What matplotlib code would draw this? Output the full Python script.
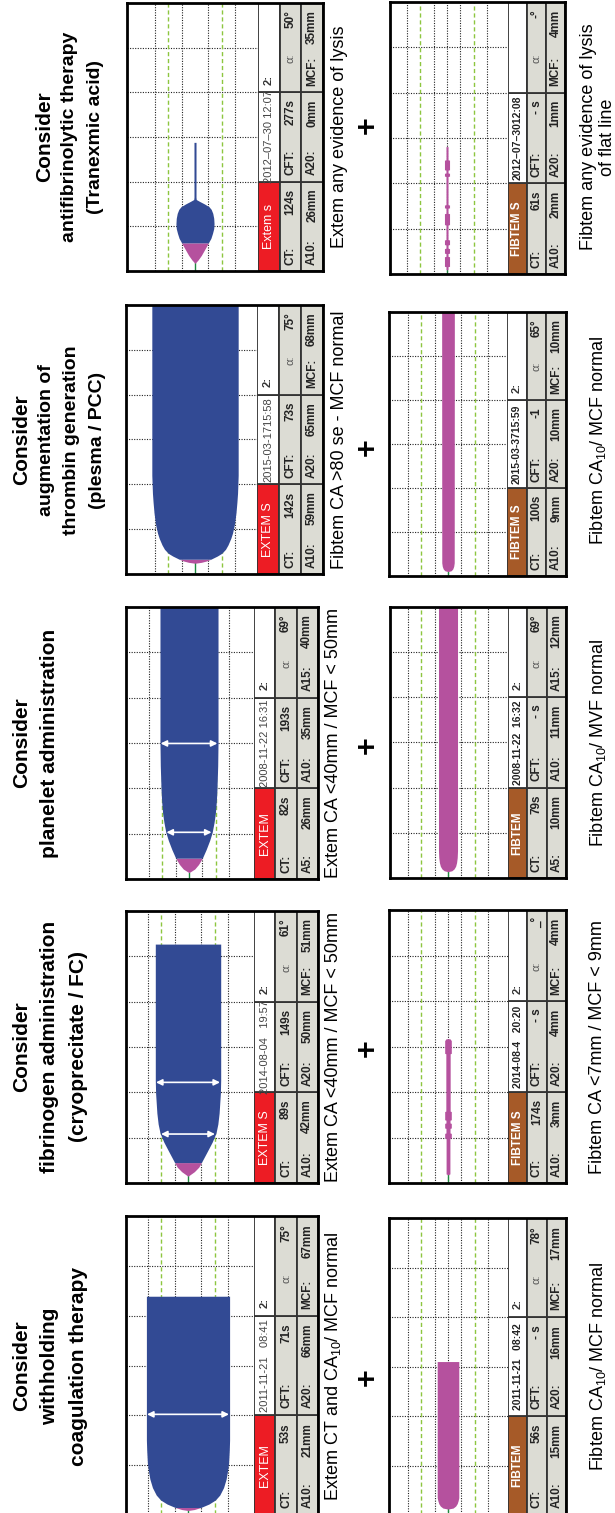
import numpy as np
from matplotlib import pyplot as plt
from matplotlib import font_manager
from matplotlib.patches import Rectangle

plt.rcParams['font.family'] = ['Liberation Sans', 'DejaVu Sans']
plt.rcParams['mathtext.fontset'] = 'custom'
plt.rcParams['mathtext.rm'] = 'Liberation Sans'
plt.rcParams['mathtext.it'] = 'Liberation Sans:italic'
plt.rcParams['mathtext.bf'] = 'Liberation Sans:bold'


def has_font(name):
    try:
        font_manager.findfont(font_manager.FontProperties(family=name), fallback_to_default=False)
        return True
    except ValueError:
        return False


NARROW = has_font('Liberation Sans Narrow')

# ---------------- data ----------------
titles = [
    ["Consider", "withholding", "coagulation therapy"],
    ["Consider", "fibrinogen administration", "(cryoprecitate / FC)"],
    ["Consider", "planelet administration"],
    ["Consider", "augmentation of", "thrombin generation", "(plesma / PCC)"],
    ["Consider", "antifibrinolytic therapy", "(Tranexmic acid)"],
]
extem_captions = [
    "Extem CT and CA$_{10}$/ MCF normal",
    "Extem CA <40mm / MCF < 50mm",
    "Extem CA <40mm / MCF < 50mm",
    "Fibtem CA >80 se - MCF normal",
    "Extem any evidence of lysis",
]
fibtem_captions = [
    "Fibtem CA$_{10}$/ MCF normal",
    "Fibtem CA <7mm / MCF < 9mm",
    "Fibtem CA$_{10}$/ MVF normal",
    "Fibtem CA$_{10}$/ MCF normal",
    "Fibtem any evidence of lysis\nof flat line",
]

extem_labels = ["EXTEM", "EXTEM S", "EXTEM", "EXTEM S", "Extem s"]
fibtem_labels = ["FIBTEM", "FIBTEM S", "FIBTEM", "FIBTEM S", "FIBTEM S"]
extem_dates = ["2011-11-21   08:41", "2014-08-04   19:57", "2008-11-22 16:31",
               "2015-03-1715:58", "2012\u201307\u201330 12:07"]
fibtem_dates = ["2011-11-21   08:42", "2014-08-4   20:20", "2008-11-22  16:32",
                "2015-03-3715:59", "2012\u201307\u20133012:08"]
extem_third = ["2:", "2:", "2:", "2:", "2:"]
fibtem_third = ["2:", "2:", "2:", "2:", ""]

extem_ct = ["53s", "89s", "82s", "142s", "124s"]
extem_cft = ["71s", "149s", "193s", "73s", "277s"]
extem_alpha = ["75°", "61°", "69°", "75°", "50°"]
fibtem_ct = ["56s", "174s", "79s", "100s", "61s"]
fibtem_cft = ["- s", "- s", "- s", "-1", "- s"]
fibtem_alpha = ["78°", "_°", "69°", "65°", "-°"]

amp_names = [["A10:", "A20:", "MCF:"], ["A10:", "A20:", "MCF:"], ["A5:", "A10:", "A15:"],
             ["A10:", "A20:", "MCF:"], ["A10:", "A20:", "MCF:"]]
extem_amp_vals = [["21mm", "66mm", "67mm"], ["42mm", "50mm", "51mm"], ["26mm", "35mm", "40mm"],
                  ["59mm", "65mm", "68mm"], ["26mm", "0mm", "35mm"]]
fibtem_amp_vals = [["15mm", "16mm", "17mm"], ["3mm", "4mm", "4mm"], ["10mm", "11mm", "12mm"],
                   ["9mm", "10mm", "10mm"], ["2mm", "1mm", "4mm"]]

# traces: time (min) and amplitude (mm)
extem_time = [
    [0.9, 1.1, 1.5, 2.2, 3.0, 4.0, 5.5, 7.2, 9.0, 10.5, 13.0, 15.0, 43.9],
    [1.5, 2.5, 3.5, 4.5, 6.6, 9.0, 11.0, 13.0, 15.4, 19.8, 22.7, 52.7],
    [1.4, 2.2, 3.2, 4.6, 6.5, 8.5, 10.3, 12.5, 14.5, 17.0, 19.6, 25.0, 30.0, 60.0],
    [2.4, 2.6, 2.9, 3.3, 4.0, 4.6, 5.5, 6.5, 8.0, 9.1, 11.0, 13.6, 16.0, 18.0, 22.0, 60.0],
    [1.7, 2.5, 3.5, 4.5, 5.5, 6.3, 7.3, 8.4, 9.5, 10.6, 11.8, 12.9, 13.8, 14.4, 15.0, 15.6,
     16.0, 16.5, 28.8],
]
extem_amp = [
    [0, 10, 20, 33, 43, 50, 56, 60, 62.5, 64, 65, 65.5, 65.5],
    [0, 10, 17, 21, 29, 38, 44, 47, 49, 51, 51.5, 51.5],
    [0, 9, 15, 21, 27, 32.5, 36.5, 39.5, 41.5, 43, 44, 45.2, 45.7, 45.7],
    [0, 10, 18, 25, 35, 42, 48, 52, 56.5, 59, 62, 64.5, 66, 67, 68, 68],
    [0, 5, 10, 14, 18, 21, 25, 27.5, 29.5, 30, 29.5, 28, 25.5, 22, 15, 7, 2, 1.6, 1.6],
]
fibtem_time = [
    [1.2, 1.4, 1.8, 2.3, 2.9, 3.5, 31.0],
    [1.8, 2.0, 9.8, 9.9, 10.9, 11.0, 12.0, 12.1, 13.1, 13.2, 13.8, 13.9, 15.7, 15.8,
     28.4, 28.5, 31.3, 31.7],
    [1.4, 1.6, 2.0, 2.6, 3.4, 4.5, 6.0, 60.0],
    [1.0, 1.2, 1.6, 2.2, 3.0, 60.0],
    [0.9, 1.0, 1.6, 1.7, 3.8, 3.9, 4.5, 4.6, 5.6, 5.7, 6.4, 6.5, 7.5, 7.6, 10.8, 10.9,
     13.3, 13.4, 14.5, 14.6, 15.2, 15.3, 21.5, 21.6, 22.2, 22.3, 22.9, 23.0, 25.1, 25.2, 28.1],
]
fibtem_amp = [
    [0, 8, 12, 14.5, 16, 17, 17],
    [0, 3, 3, 5.2, 5.2, 3.2, 3.2, 5.2, 5.2, 3.2, 3.2, 5.2, 5.2, 3.4, 3.4, 5.2, 5.2, 3.0],
    [0, 6, 9.5, 12, 13.5, 14.5, 15, 15],
    [0, 5, 7.5, 9, 9.8, 10],
    [0, 1.6, 1.6, 4, 4, 1.6, 1.6, 4, 4, 1.6, 1.6, 4, 4, 1.6, 1.6, 4, 4, 1.6, 1.6, 4, 4,
     1.6, 1.6, 4, 4, 1.6, 1.6, 4, 4, 1.6, 1.6],
]
extem_arrows = [[20.2], [10.8, 22.2], [10.3, 29.9], [], []]

# ---------------- layout (pixels of the 615 x 1513 picture) ----------------
W, H = 615, 1513
PX_MM = 1.27
col_y = [1366, 1047, 743, 440, 137]
title_x = [[22, 50, 78], [22, 50, 78], [22, 50], [22, 47, 72, 97], [45, 70, 95]]
plus_y = [1377, 1048, 745, 447, 125]
extem_cap_x = [333, 333, 333, 339, 339]
# (left, trace/table split, right, top, bottom)
extem_box = [(126, 254, 318, 1216, 1515), (126, 254, 318, 911, 1183), (126, 254, 318, 607, 879),
             (126, 257, 323, 305, 574), (127, 258, 323, 3, 271)]
fibtem_box = [(389, 508, 566, 1218, 1515), (389, 508, 566, 910, 1183), (390, 508, 566, 607, 878),
              (389, 507, 566, 312, 576), (390, 508, 565, 2, 274)]
extem_center = [188, 188, 189, 195, 195]
fibtem_center = [448, 448, 448, 448, 447]

BLUE = '#324A94'
MAGENTA = '#B5519E'
RED = '#ED1C24'
BROWN = '#A65A28'
GRAY = '#DCDCD4'
GREEN = '#8DC63F'

fig = plt.figure(figsize=(W / 100, H / 100), dpi=100)


def frac(x0, y0, x1, y1):
    return [x0 / W, 1 - y1 / H, (x1 - x0) / W, (y1 - y0) / H]


def ftext(x, y, s, **kw):
    fig.text(x / W, 1 - y / H, s, rotation=90, ha='center', va='center', **kw)


def ttext(ax, x, y, s, ha, **kw):
    ax.text(x, y, s, rotation=90, rotation_mode='anchor', ha=ha, va='center', **kw)


def draw_panel(box, center, t, a, fib, label, date, third, ct, cft, alpha, names, vals, arrows):
    x0, xs, x1, y0, y1 = box
    t = np.array(t)
    a = np.array(a)

    ax = fig.add_axes(frac(x0, y0, xs, y1))
    ax.set_xlim((x0 - center) / PX_MM, (xs - center) / PX_MM)
    ax.set_ylim(0, 60)
    ax.axis('off')
    for g in (10, 20, 30, 40, 50):
        ax.axhline(g, color='#222222', lw=0.8, ls=(0, (1, 1.3)), zorder=1)
    grid_x = [-31.5, -10.5, 10.5, 31.5] + ([0] if fib else [])
    for g in grid_x:
        ax.axvline(g, color='#222222', lw=0.8, ls=(0, (1, 1.3)), zorder=1)
    for g in (-21, 21):
        ax.axvline(g, color=GREEN, lw=1.0, ls=(0, (3, 2)), zorder=1)

    ax.plot([0, 0], [0, t[0]], color='#1E8A3E', lw=1.0, zorder=2)
    over = np.nonzero(a >= 20)[0]
    k = over[0] if len(over) else len(t) - 1
    ax.fill_betweenx(t[:k + 1], -a[:k + 1] / 2, a[:k + 1] / 2, color=MAGENTA, lw=0, zorder=3)
    if k < len(t) - 1:
        ax.fill_betweenx(t[k:], -a[k:] / 2, a[k:] / 2, color=BLUE, lw=0, zorder=3)
    for ta in arrows:
        w = np.interp(ta, t, a) / 2 - 0.5
        ax.annotate('', xy=(-w, ta), xytext=(w, ta),
                    arrowprops=dict(arrowstyle='<|-|>', color='white', lw=1.2,
                                    mutation_scale=9, shrinkA=0, shrinkB=0), zorder=4)

    tab = fig.add_axes(frac(xs, y0, x1, y1))
    tab.set_xlim(0, 3)
    tab.set_ylim(0, 3)
    tab.axis('off')
    for r in range(3):
        for c in range(3):
            if r == 0:
                fc = (BROWN if fib else RED) if c == 0 else 'white'
            else:
                fc = GRAY
            tab.add_patch(Rectangle((r, c), 1, 1, facecolor=fc, edgecolor='#333333', lw=1.3))
    if fib:
        ttext(tab, 0.5, 0.5, label, 'center', color='white', fontsize=8.5, fontweight='bold')
        ttext(tab, 0.5, 1.5, date, 'center', color='#222222', fontsize=7.5, fontweight='bold')
    else:
        ttext(tab, 0.5, 0.5, label, 'center', color='white', fontsize=9)
        ttext(tab, 0.5, 1.5, date, 'center', color='#444444', fontsize=8)
    ttext(tab, 0.5, 2.08, third, 'left', color='#333333', fontsize=8, fontweight='bold')

    bold = dict(color='#222222', fontsize=8.5, fontweight='bold')
    ttext(tab, 1.5, 0.07, "CT:", 'left', **bold)
    ttext(tab, 1.5, 0.92, ct, 'right', **bold)
    ttext(tab, 1.5, 1.07, "CFT:", 'left', **bold)
    ttext(tab, 1.5, 1.92, cft, 'right', **bold)
    ttext(tab, 1.5, 2.38, "α:", 'center', color='#555555', fontsize=8)
    ttext(tab, 1.5, 2.92, alpha, 'right', **bold)
    for c in range(3):
        ttext(tab, 2.5, c + 0.07, names[c], 'left', **bold)
        ttext(tab, 2.5, c + 0.92, vals[c], 'right', **bold)

    fr = fig.add_axes(frac(x0, y0, x1, y1))
    fr.patch.set_visible(False)
    fr.set_xticks([])
    fr.set_yticks([])
    for s in fr.spines.values():
        s.set_linewidth(2.0)
        s.set_color('black')


for i in range(5):
    # titles
    for j, line in enumerate(titles[i]):
        if j > 0 and i >= 3:
            if NARROW:
                ftext(title_x[i][j], col_y[i], line, fontsize=17, fontweight='bold',
                      family=['Liberation Sans Narrow', 'Liberation Sans'])
            else:
                ftext(title_x[i][j], col_y[i], line, fontsize=14, fontweight='bold')
        else:
            ftext(title_x[i][j], col_y[i], line, fontsize=15, fontweight='bold')

    draw_panel(extem_box[i], extem_center[i], extem_time[i], extem_amp[i], False,
               extem_labels[i], extem_dates[i], extem_third[i], extem_ct[i], extem_cft[i],
               extem_alpha[i], amp_names[i], extem_amp_vals[i], extem_arrows[i])
    draw_panel(fibtem_box[i], fibtem_center[i], fibtem_time[i], fibtem_amp[i], True,
               fibtem_labels[i], fibtem_dates[i], fibtem_third[i], fibtem_ct[i], fibtem_cft[i],
               fibtem_alpha[i], amp_names[i], fibtem_amp_vals[i], [])

    ftext(extem_cap_x[i], col_y[i], extem_captions[i], fontsize=13)
    ftext(368, plus_y[i], "+", fontsize=22, fontweight='bold')
    ftext(598, col_y[i], fibtem_captions[i], fontsize=13, linespacing=1.15)

fig.savefig("out.png", dpi=100)
